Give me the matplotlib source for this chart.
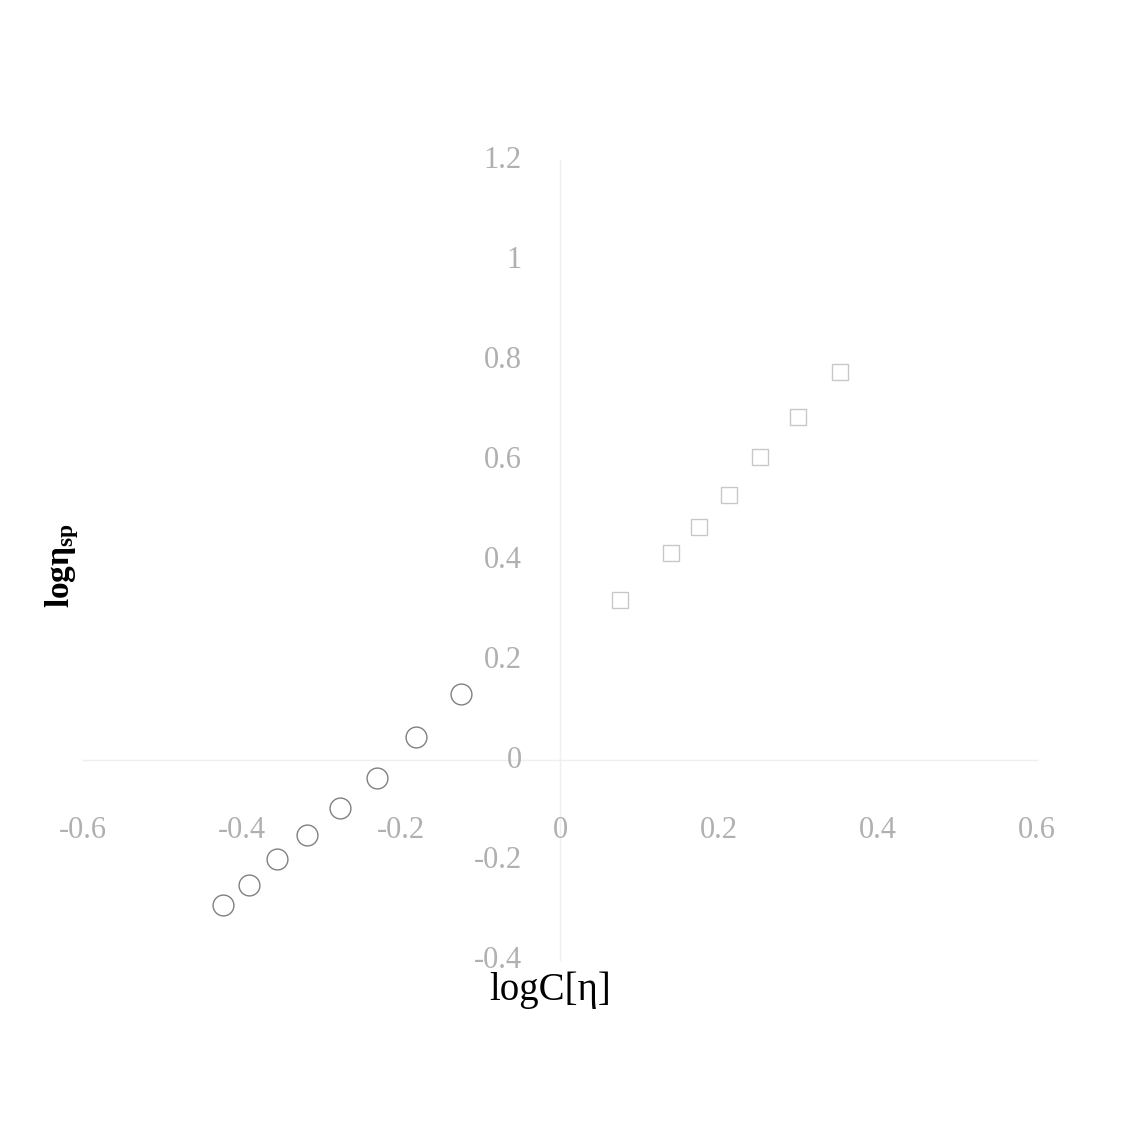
import matplotlib.pyplot as plt

# datos
circ_x = [-0.424, -0.391, -0.356, -0.318, -0.277, -0.230, -0.181, -0.125]
circ_y = [-0.29, -0.25, -0.198, -0.15, -0.096, -0.036, 0.046, 0.132]
sq_x = [0.075, 0.140, 0.175, 0.213, 0.252, 0.299, 0.352]
sq_y = [0.32, 0.414, 0.466, 0.53, 0.606, 0.686, 0.776]

xticks = [-0.6, -0.4, -0.2, 0, 0.2, 0.4, 0.6]
xtick_labels = ["-0.6", "-0.4", "-0.2", "0", "0.2", "0.4", "0.6"]
yticks = [1.2, 1.0, 0.8, 0.6, 0.4, 0.2, 0, -0.2, -0.4]
ytick_labels = ["1.2", "1", "0.8", "0.6", "0.4", "0.2", "0", "-0.2", "-0.4"]

plt.rcParams['font.family'] = ['Liberation Serif', 'DejaVu Serif']

fig = plt.figure(figsize=(11.23, 11.27), dpi=100)
ax = fig.add_axes([3.5 / 1123, 67 / 1127, 1113 / 1123, 1000 / 1127])
ax.set_xlim(-0.7, 0.7)
ax.set_ylim(-0.6, 1.4)
ax.axis('off')

# ejes que se cruzan en el origen (muy tenues)
ax.plot([-0.6, 0.6], [0, 0], color='#efefef', linewidth=1)
ax.plot([0, 0], [-0.4, 1.2], color='#efefef', linewidth=1)

# etiquetas de los ticks
for x, t in zip(xticks, xtick_labels):
    ax.text(x, -0.14, t, fontsize=22, color='#b0b0b0', ha='center', va='center')
for y, t in zip(yticks, ytick_labels):
    ax.text(-0.048, y, t, fontsize=22, color='#b0b0b0', ha='right', va='center')

# datos
ax.plot(circ_x, circ_y, linestyle='none', marker='o', markersize=15,
        markerfacecolor='none', markeredgecolor='#808080', markeredgewidth=1)
ax.plot(sq_x, sq_y, linestyle='none', marker='s', markersize=11,
        markerfacecolor='none', markeredgecolor='#c8c8c8', markeredgewidth=1)

# titulos de ejes
ax.text(-0.0126, -0.46, "logC[η]", fontsize=28, color='black', ha='center', va='center')
ax.text(-0.626, 0.39, r"log$\mathregular{\eta_{sp}}$", fontsize=24, fontweight='bold',
        color='black', ha='center', va='center', rotation=90)

plt.savefig('out.png', dpi=100)
